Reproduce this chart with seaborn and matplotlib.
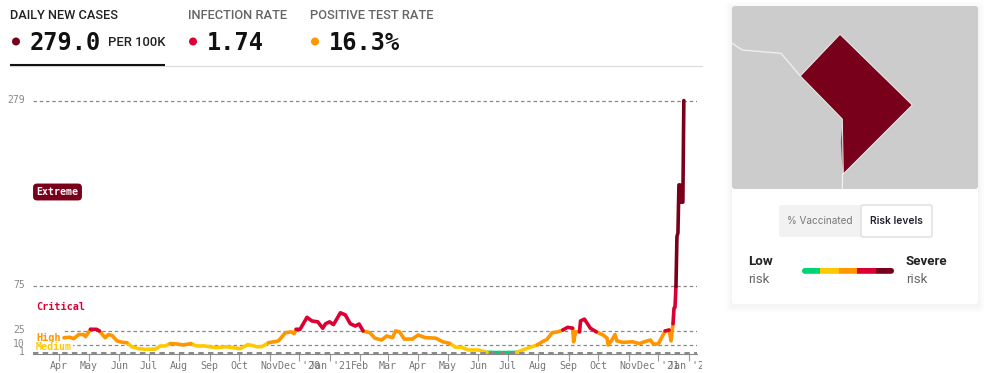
import matplotlib
matplotlib.use("Agg")
import matplotlib.pyplot as plt
from matplotlib.transforms import Bbox, ScaledTranslation
import numpy as np
import pandas as pd
import seaborn as sns
from matplotlib.patches import FancyBboxPatch, Polygon, Rectangle, Circle

# ---- data -----
START = pd.Timestamp("2020-04-01")
day_offsets = [5,11,15,20,25,27,32,38,41,47,50,54,59,64,69,74,81,89,98,103,108,113,120,126,134,140,148,160,170,184,
               192,201,206,213,223,230,236,239,241,245,252,257,263,268,271,275,279,286,291,296,301,305,309,316,321,
               328,333,339,342,346,351,359,365,372,383,390,397,403,409,416,426,435,445,455,465,473,479,486,491,496,
               501,507,512,517,522,523,525,529,530,534,537,540,546,553,557,558,562,565,567,573,583,590,595,601,604,
               609,613,616,620,622,624,625,626,627,628,629,630,631,632,634,635]
cases = [17.5,18,16.5,21,21,18.7,26.8,26.8,25,17.5,21,20,14,12.5,12,7.6,5.4,4.7,5,8.4,8.4,11,10.6,9.5,11,8.4,8.4,6.5,
         7.6,5.4,10,7.6,7.6,12,14,23,24,22,26.8,26.8,40,36,35,28,33,35,32,45,42.6,33,30.4,32.6,25,23,17,15,19.4,17.6,
         25,24,16,16,20.5,17.6,17,13,11.3,7,7,4,4,1.4,1.2,1.2,1.3,4.7,7,9.5,13,15.7,23,24,26,29,28,13,24,24,36,38,33,
         28,24,20.5,17,9.5,15,21,14,12.4,13,11,13,15,10.6,10.6,18.7,25,26,14,33,50,51,74,129,133,186,186,167,167,279]
risk_breaks = [1.5, 10, 25, 75]
risk_names = ["Low", "Medium", "High", "Critical", "Extreme"]
risk_colors = ["#00d474", "#ffc900", "#ff9600", "#dc0032", "#79001a"]

y_ticks = [1, 10, 25, 75, 279]
month_ticks = ["2020-04-01","2020-05-01","2020-06-01","2020-07-01","2020-08-01","2020-09-01","2020-10-01","2020-11-01",
               "2020-12-01","2021-01-01","2021-02-01","2021-03-01","2021-04-01","2021-05-01","2021-06-01","2021-07-01",
               "2021-08-01","2021-09-01","2021-10-01","2021-11-01","2021-12-01","2022-01-01"]
month_labels = ["Apr","May","Jun","Jul","Aug","Sep","Oct","Nov","Dec '20","Jan '21","Feb","Mar","Apr","May","Jun","Jul",
                "Aug","Sep","Oct","Nov","Dec '21","Jan '22"]

# shapes of the map panel, in panel pixels
dc_outline = [(840,34.3),(912.3,105),(843.3,174),(842.3,119),(800.3,76)]
dc_sliver = [(842,128),(840.8,142),(842.5,170)]
border_west = [(732.3,43.3),(742.3,50),(781,53.3),(800.3,76)]
border_south = [(842.5,174),(842.3,189)]

W, H = 1000, 373
sns.set_theme(style="white")
fig = plt.figure(figsize=(W/100, H/100), dpi=100, facecolor="white")

def px_axes(left, top, right, bottom, **kw):
    return fig.add_axes([left/W, 1-bottom/H, (right-left)/W, (bottom-top)/H], **kw)

# ---- overlay for header and panel -----
ov = px_axes(0, 0, W, H)
ov.set_xlim(0, W); ov.set_ylim(H, 0); ov.axis("off"); ov.set_zorder(0)

HEAD = "Roboto"; MONO = "DejaVu Sans Mono"
ov.text(10, 15.5, "DAILY NEW CASES", family=HEAD, weight="medium", fontsize=9.15, color="#222222", va="center")
ov.text(188, 15.5, "INFECTION RATE", family=HEAD, weight="medium", fontsize=9.3, color="#666666", va="center")
ov.text(310, 15.5, "POSITIVE TEST RATE", family=HEAD, weight="medium", fontsize=9.3, color="#666666", va="center")
for x, col, val in [(16, risk_colors[4], "279.0"), (193, risk_colors[3], "1.74"), (315, risk_colors[2], "16.3%")]:
    ov.add_patch(Circle((x, 41.5), 4.0, color=col, lw=0))
    ov.text(x+14, 42.5, val, family=MONO, weight="bold", fontsize=17, color="#111111", va="center")
ov.text(108, 43, "PER 100K", family=HEAD, weight="medium", fontsize=9.4, color="#222222", va="center")
ov.plot([10, 702], [65.5, 65.5], color="#dddddd", lw=0.9)
ov.plot([10, 165], [64.5, 64.5], color="#111111", lw=1.5, solid_capstyle="butt")

# card with soft shadow
for grow, a in [(6, .010), (4, .012), (2, .016)]:
    ov.add_patch(FancyBboxPatch((732-grow, 6-grow+2), 246+2*grow, 298+2*grow, boxstyle="round,pad=0,rounding_size=4",
                                fc="black", ec="none", alpha=a))
ov.add_patch(FancyBboxPatch((732, 6), 246, 298, boxstyle="round,pad=0,rounding_size=3", fc="white", ec="none"))
ov.add_patch(FancyBboxPatch((732, 6), 246, 183, boxstyle="round,pad=0,rounding_size=3", fc="#cccccc", ec="none"))
ov.add_patch(Polygon(dc_outline, closed=True, fc="#79001a", ec="#eeeeee", lw=0.7))
ov.plot(*zip(*border_west), color="#eeeeee", lw=1.0)
ov.plot(*zip(*border_south), color="#eeeeee", lw=1.0)
ov.add_patch(Polygon(dc_sliver, closed=True, fc="#a04a5a", ec="none"))

# toggle
ov.add_patch(FancyBboxPatch((779, 205), 84, 32, boxstyle="round,pad=0,rounding_size=2", fc="#f2f2f2", ec="none"))
ov.add_patch(FancyBboxPatch((861, 205), 71, 32, boxstyle="round,pad=0,rounding_size=2", fc="white", ec="#dddddd", lw=1))
ov.text(820, 220.5, "% Vaccinated", family="Inter", fontsize=7.2, color="#777777", ha="center", va="center")
ov.text(896.5, 220.5, "Risk levels", family="Inter", weight=600, fontsize=7.4, color="#222233", ha="center", va="center")

# risk scale
clip = FancyBboxPatch((802, 268), 92, 5.8, boxstyle="round,pad=0,rounding_size=2.9", fc="none", ec="none")
ov.add_patch(clip)
for i, c in enumerate(risk_colors):
    r = Rectangle((802 + i*18.4, 268), 18.4, 5.8, fc=c, ec="none")
    ov.add_patch(r); r.set_clip_path(clip)
ov.text(748, 261.5, "Low", family=HEAD, weight="bold", fontsize=9.6, color="#222222", va="center")
ov.text(748, 279.5, "risk", family=HEAD, fontsize=9.6, color="#666666", va="center")
ov.text(906, 261.5, "Severe", family=HEAD, weight="bold", fontsize=9.6, color="#222222", va="center")
ov.text(906, 279.5, "risk", family=HEAD, fontsize=9.6, color="#666666", va="center")

# ---- main chart -----
def level(v):
    return int(np.searchsorted(risk_breaks, v))

dates = START + pd.to_timedelta(day_offsets, unit="D")
rows, run, prev = [], 0, None
for i in range(len(cases)-1):
    lv = level((cases[i]+cases[i+1])/2)
    if lv != prev:
        run += 1; prev = lv
    rows.append((dates[i], cases[i], risk_names[lv], run, i))
    rows.append((dates[i+1], cases[i+1], risk_names[lv], run, i+1))
df = pd.DataFrame(rows, columns=["date", "cases", "risk", "run", "idx"]).drop_duplicates(["run", "idx"])

ax = px_axes(33, 85, 697, 353.6)
ax.patch.set_alpha(0); ax.set_zorder(2)
for v in y_ticks:
    ax.axhline(v, color="#888888", lw=1.4 if v == 1 else 0.9, ls=(0, (2.8, 2.2)), zorder=3.5 if v == 1 else 1)
sns.lineplot(data=df, x="date", y="cases", hue="risk", hue_order=risk_names, palette=risk_colors, units="run",
             estimator=None, sort=False, lw=2.6, legend=False, ax=ax, zorder=3,
             solid_capstyle="round", solid_joinstyle="round")
k = 0.984
ax.set_xlim(START - pd.Timedelta(days=(59-33)/k), START + pd.Timedelta(days=(697-59)/k))
ax.set_ylim(0, (353.6-85)/0.907)
ax.set_xlabel(""); ax.set_ylabel("")
ax.set_yticks(y_ticks); ax.set_yticklabels([str(v) for v in y_ticks])
ax.set_xticks(pd.to_datetime(month_ticks)); ax.set_xticklabels(month_labels)
ax.tick_params(axis="y", length=0, pad=6, labelsize=7, labelcolor="#888888", labelfontfamily=MONO)
ax.tick_params(axis="x", length=5, width=0.8, color="#999999", pad=0.5, labelsize=7.2, labelcolor="#777777",
               labelfontfamily=MONO, bottom=True)
for s in ["top", "right", "left"]:
    ax.spines[s].set_visible(False)
ax.spines["bottom"].set_color("#888888"); ax.spines["bottom"].set_linewidth(0.8)
clip_box = Bbox([[0, 0], [702, H]])
for t in ax.get_xticklabels():
    t.set_clip_on(True); t.set_clip_box(clip_box)
for t in ax.get_yticklabels():
    t.set_transform(t.get_transform() + ScaledTranslation(0, 1.2/72, fig.dpi_scale_trans))

def tag(x, y, s, **kw):
    ax.annotate(s, xy=(0, 0), xycoords="figure pixels", xytext=(x, H-y), textcoords="figure pixels",
                family=MONO, weight="bold", va="center", annotation_clip=False, zorder=2, **kw)

tag(36, 307, "Critical", fontsize=7.3, color=risk_colors[3])
tag(36, 337.5, "High", fontsize=7.4, color=risk_colors[2],
    bbox=dict(fc="white", ec="none", pad=2.5))
tag(36, 347.5, "Medium", fontsize=7.2, color=risk_colors[1],
    bbox=dict(fc="white", ec="none", pad=0.5))
tag(36.5, 192, "Extreme", fontsize=7.1, color="white",
    bbox=dict(boxstyle="round,pad=0.35,rounding_size=0.4", fc=risk_colors[4], ec="none"))

fig.savefig("out.png", dpi=100, facecolor="white")
